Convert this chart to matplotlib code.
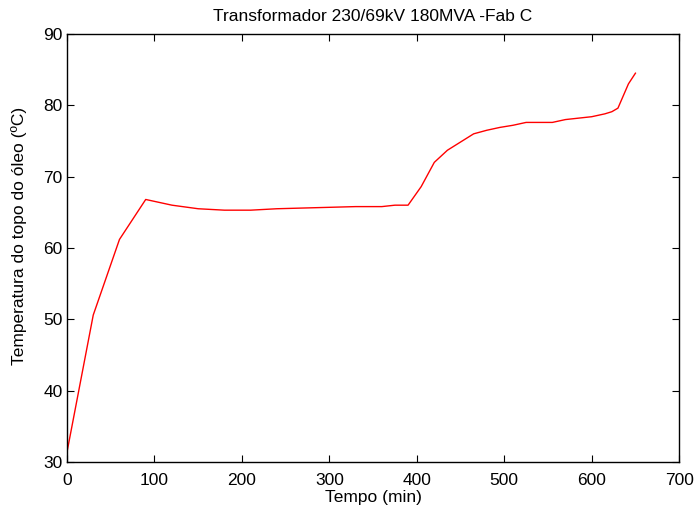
import matplotlib
matplotlib.use("Agg")
import matplotlib.pyplot as plt

plt.rcParams['font.family'] = ['Liberation Sans', 'DejaVu Sans']

# Top-oil temperature record (minutes, degrees C)
tempo = [0, 30, 60, 90, 120, 150, 180, 210, 240, 270, 300, 330, 360, 375, 390,
         405, 420, 435, 465, 480, 495, 510, 525, 555, 570, 600, 615, 623, 630,
         642, 650]
temperatura = [31.4, 50.6, 61.2, 66.8, 66.0, 65.5, 65.3, 65.3, 65.5, 65.6, 65.7,
               65.8, 65.8, 66.0, 66.0, 68.6, 72.0, 73.7, 76.0, 76.5, 76.9, 77.2,
               77.6, 77.6, 78.0, 78.4, 78.8, 79.1, 79.6, 83.0, 84.5]

xticks = [0, 100, 200, 300, 400, 500, 600, 700]
yticks = [30, 40, 50, 60, 70, 80, 90]

fs = 12.5

fig = plt.figure(figsize=(6.98, 5.09), dpi=100)
ax = fig.add_axes([0.096, 0.0923, 0.877, 0.841])
ax.plot(tempo, temperatura, color='red', linewidth=1.0)

ax.set_xlim(0, 700)
ax.set_ylim(30, 90)
ax.set_xticks(xticks)
ax.set_yticks(yticks)
ax.tick_params(direction='in', length=5, width=0.8, labelsize=fs,
               top=True, right=True)
ax.tick_params(axis='x', pad=8)
ax.tick_params(axis='y', pad=3)
for s in ax.spines.values():
    s.set_linewidth(1.0)

ax.set_title('Transformador 230/69kV 180MVA -Fab C', fontsize=fs, pad=9)
ax.set_xlabel('Tempo (min)', fontsize=fs, labelpad=1)
ax.set_ylabel('Temperatura do topo do óleo (ºC)', fontsize=fs)
ax.yaxis.set_label_coords(-0.066, 0.527)

fig.savefig('out.png', dpi=100, facecolor='white')
